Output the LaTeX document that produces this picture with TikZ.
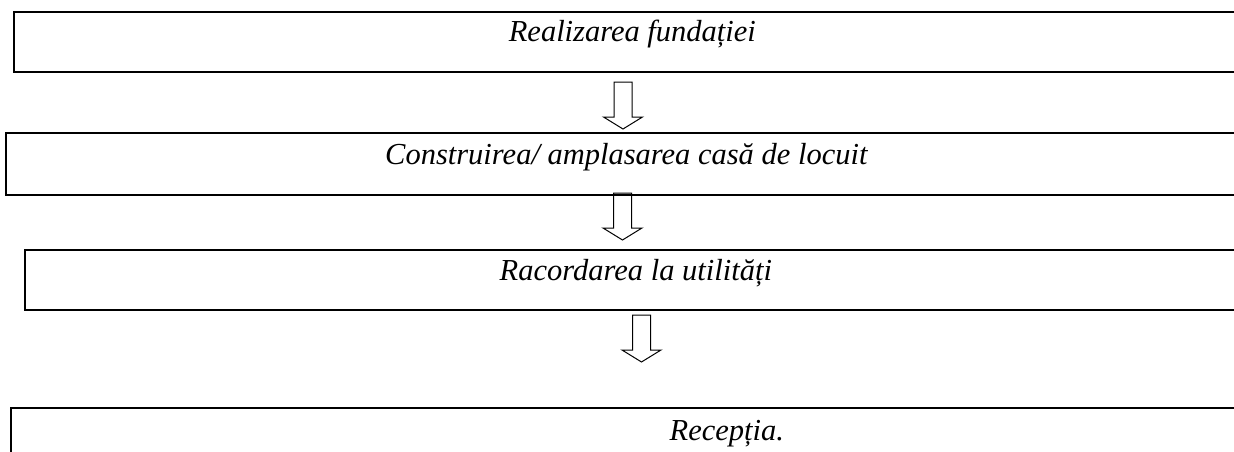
\documentclass[tikz,border=0pt]{standalone}
\usepackage{fontspec}
\setmainfont{Liberation Serif}
\usetikzlibrary{positioning}

\tikzset{
  stepbox/.style={draw,line width=1.7pt,anchor=west,inner sep=0pt,
    text height=14pt,text depth=14pt,
    font=\fontsize{30.5}{34}\selectfont\itshape},
  blockarr/.style={draw,line width=1pt,line join=miter}
}

\begin{document}
\begin{tikzpicture}[x=1pt,y=-1pt]
  \useasboundingbox (0,0) rectangle (1234,452);
  \clip (0,0) rectangle (1234,452);
  % the four stages
  \node[stepbox,minimum width=1237pt,minimum height=60pt] (fund) at (13,42) {Realizarea fundației};
  \node[stepbox,minimum width=1241pt,minimum height=62pt] (casa) at (5,164) {Construirea/ amplasarea casă de locuit};
  \node[stepbox,minimum width=1222pt,minimum height=60pt] (util) at (24,280) {Racordarea la utilități};
  \node[stepbox,minimum width=1432pt,minimum height=64pt] (rec) at (10,440) {Recepția.};
  % hollow arrows between them
  \foreach \ax/\ay in {623/82, 622.5/193, 641.5/315}
    \draw[blockarr,shift={(\ax,\ay)}] (-9,0) -- (-9,35) -- (-19.5,35) -- (0,47)
      -- (19.5,35) -- (9,35) -- (9,0) -- cycle;
\end{tikzpicture}
\end{document}
